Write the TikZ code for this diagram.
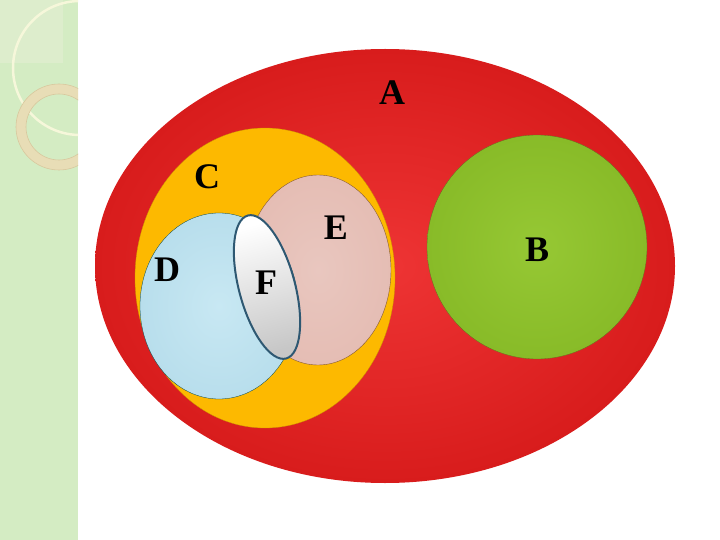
\documentclass[tikz,border=0pt]{standalone}
\usepackage{fontspec}
\setmainfont{Liberation Serif}
\definecolor{strip}{HTML}{D4ECC3}
\definecolor{sq}{HTML}{DDEDCC}
\definecolor{arcw}{HTML}{F6F7DA}
\definecolor{ring}{HTML}{E8DDB6}
\definecolor{ringedge}{HTML}{D8C89E}
\definecolor{redin}{HTML}{EE3434}
\definecolor{redout}{HTML}{D81C1C}
\definecolor{yel}{HTML}{FDB900}
\definecolor{pinkE}{HTML}{E5BDB4}
\definecolor{blueIn}{HTML}{C8E8F3}
\definecolor{blueOut}{HTML}{B8DEEC}
\definecolor{grIn}{HTML}{96C834}
\definecolor{grOut}{HTML}{88BB28}
\definecolor{fedge}{HTML}{2E5872}
\tikzset{lab/.style={font=\fontsize{36}{36}\selectfont\bfseries, inner sep=0pt}}
\begin{document}
\begin{tikzpicture}[x=1pt,y=-1pt]
\useasboundingbox (0,0) rectangle (720,540);
\fill[white] (0,0) rectangle (720,540);
% left strip with decoration
\fill[strip] (0,0) rectangle (78,540);
\begin{scope}
\clip (0,0) rectangle (78,540);
\fill[sq] (0,0) rectangle (63,63);
\draw[arcw, line width=2.5pt] (80,68) circle (67);
\draw[ring, line width=10pt] (59,127) circle (38);
\draw[ringedge, line width=0.6pt] (59,127) circle (43);
\draw[ringedge, line width=0.6pt] (59,127) circle (33);
\end{scope}
% A
\shade[inner color=redin, outer color=redout] (385,266) ellipse [x radius=290, y radius=217];
% C
\fill[yel, draw=yel!80!black, line width=0.3pt] (265,278) ellipse [x radius=130, y radius=150];
% E
\shade[inner color=pinkE!85!white, outer color=pinkE, draw=brown!70!black, line width=0.4pt] (318,270) ellipse [x radius=73, y radius=95];
% D
\shade[inner color=blueIn, outer color=blueOut, draw=teal!50!black, line width=0.3pt] (219,306) ellipse [x radius=79, y radius=93];
% F
\shade[top color=white, bottom color=black!22, shading angle=15, draw=fedge, line width=2pt, rotate around={15:(267,287)}] (267,287) ellipse [x radius=28, y radius=74];
% B
\shade[inner color=grIn, outer color=grOut, draw=olive!70!black, line width=0.3pt] (537,247) ellipse [x radius=110, y radius=112];
% labels
\node[lab] (la) at (392,93) {A};
\node[lab] (lc) at (207,177) {C};
\node[lab] (le) at (336,228) {E};
\node[lab] (ld) at (167,270) {D};
\node[lab] (lf) at (266,283) {F};
\node[lab] (lb) at (537,250) {B};
\end{tikzpicture}
\end{document}
